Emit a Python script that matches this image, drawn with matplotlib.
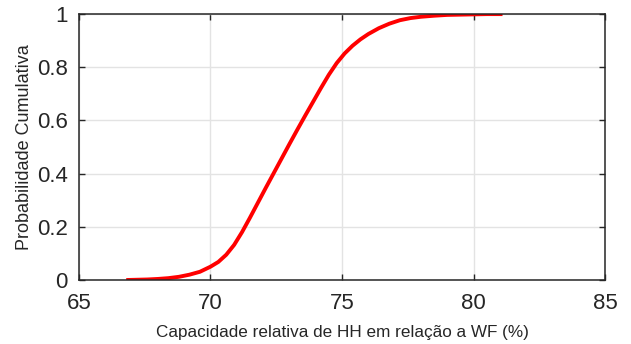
import numpy as np
import matplotlib
matplotlib.use("Agg")
import matplotlib.pyplot as plt

capacidade = [66.8, 67.2, 67.6, 68.0, 68.4, 68.8, 69.2, 69.6, 70.0, 70.3,
              70.6, 70.9, 71.2, 71.5, 71.8, 72.1, 72.4, 72.7, 73.0, 73.3,
              73.6, 73.9, 74.2, 74.5, 74.8, 75.1, 75.4, 75.7, 76.0, 76.4,
              76.8, 77.2, 77.6, 78.0, 78.5, 79.0, 79.5, 80.0, 80.5, 81.1]
prob_cum = [0.000, 0.001, 0.002, 0.004, 0.007, 0.012, 0.020, 0.031, 0.050, 0.068,
            0.095, 0.132, 0.180, 0.234, 0.290, 0.346, 0.401, 0.456, 0.511, 0.565,
            0.618, 0.670, 0.722, 0.772, 0.816, 0.852, 0.881, 0.905, 0.925, 0.947,
            0.964, 0.977, 0.985, 0.990, 0.994, 0.997, 0.998, 0.999, 1.000, 1.000]

xticks = [65, 70, 75, 80, 85]
yticks = [0, 0.2, 0.4, 0.6, 0.8, 1]
ytick_labels = ["0", "0.2", "0.4", "0.6", "0.8", "1"]

plt.rcParams['font.family'] = ['Liberation Sans', 'DejaVu Sans']
axcol = "#262626"

fig = plt.figure(figsize=(6.31, 3.44), dpi=100)
ax = fig.add_axes([0.125, 0.186, 0.834, 0.773])

ax.plot(capacidade, prob_cum, color="#ff0000", lw=2.8,
        solid_capstyle="butt", solid_joinstyle="round")

ax.set_xlim(65, 85)
ax.set_ylim(0, 1)
ax.set_xticks(xticks)
ax.set_yticks(yticks)
ax.set_yticklabels(ytick_labels)

# matlab-ish look
ax.grid(True, color="#e3e3e3", lw=1.0)
ax.set_axisbelow(True)
ax.tick_params(direction="in", length=4, width=1, colors=axcol,
               top=True, right=True, labelsize=16)
ax.tick_params(axis="x", pad=9)
ax.tick_params(axis="y", pad=8)
for s in ax.spines.values():
    s.set_color(axcol)
    s.set_linewidth(1.1)

ax.set_xlabel("Capacidade relativa de HH em relação a WF (%)", fontsize=12.3,
              color=axcol, labelpad=8)
ax.set_ylabel("Probabilidade Cumulativa", fontsize=13, color=axcol, labelpad=3)

fig.savefig("out.png", dpi=100)
